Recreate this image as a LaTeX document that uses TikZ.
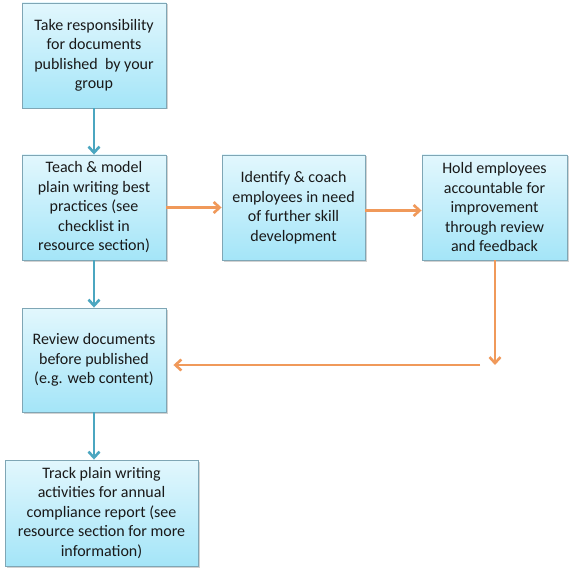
\documentclass[tikz,border=0pt]{standalone}
\usepackage{fontspec}
\setmainfont{Carlito}
\usetikzlibrary{arrows.meta,shadows,positioning}
\definecolor{boxtop}{HTML}{E2F7FD}
\definecolor{boxbot}{HTML}{A4E5F8}
\definecolor{boxline}{HTML}{7FA6B5}
\definecolor{blueline}{HTML}{4BA6C0}
\definecolor{orangeline}{HTML}{F0995A}
\tikzset{
  box/.style={draw=boxline, line width=0.9pt, top color=boxtop, bottom color=boxbot,
    align=center, inner sep=1pt, font=\fontsize{16}{19.5}\selectfont, text=black!90,
    drop shadow={shadow xshift=1.5pt, shadow yshift=-1.5pt, opacity=0.35}},
  bluearrow/.style={draw=blueline, line width=2.8pt, -{Straight Barb[length=6pt,width=11pt,line width=2.6pt]}},
  orangearrow/.style={draw=orangeline, line width=2.8pt, -{Straight Barb[length=6pt,width=11pt,line width=2.6pt]}}
}
\begin{document}
\begin{tikzpicture}[x=1pt,y=-1pt]
\useasboundingbox[fill=white] (0,0) rectangle (568,569);
\node[box, minimum width=144pt, minimum height=105pt] (b1) at (94,55.5)
  {Take responsibility\\for documents\\published\ \ by your\\group};
\node[box, minimum width=144pt, minimum height=105pt] (b2) at (94,207.5)
  {Teach \& model\\plain writing best\\practices (see\\checklist in\\resource section)};
\node[box, minimum width=143pt, minimum height=105pt] (b3) at (293.5,207.5)
  {Identify \& coach\\employees in need\\of further skill\\development};
\node[box, minimum width=145pt, minimum height=105pt] (b4) at (494.5,207.5)
  {Hold employees\\accountable for\\improvement\\through review\\and feedback};
\node[box, minimum width=144pt, minimum height=104pt] (b5) at (94,360)
  {Review documents\\before published\\(e.g. web content)};
\node[box, minimum width=193pt, minimum height=106pt] (b6) at (101.5,513)
  {Track plain writing\\activities for annual\\compliance report (see\\resource section for more\\information)};
\coordinate (c1) at (495,365);
\coordinate (c2) at (480,365);
\draw[bluearrow] (b1.south) -- (b2.north);
\draw[bluearrow] (b2.south) -- (b5.north);
\draw[bluearrow] (b5.south) -- (b6.north -| b5.south);
\draw[orangearrow] (b2.east) -- (b3.west);
\draw[orangearrow] ([yshift=-3pt]b3.east) -- ([yshift=-3pt]b4.west);
\draw[orangearrow] (b4.south -| c1) -- (c1);
\draw[orangearrow, shorten >=7pt] (c2) -- (c2 -| b5.east);
\end{tikzpicture}
\end{document}
